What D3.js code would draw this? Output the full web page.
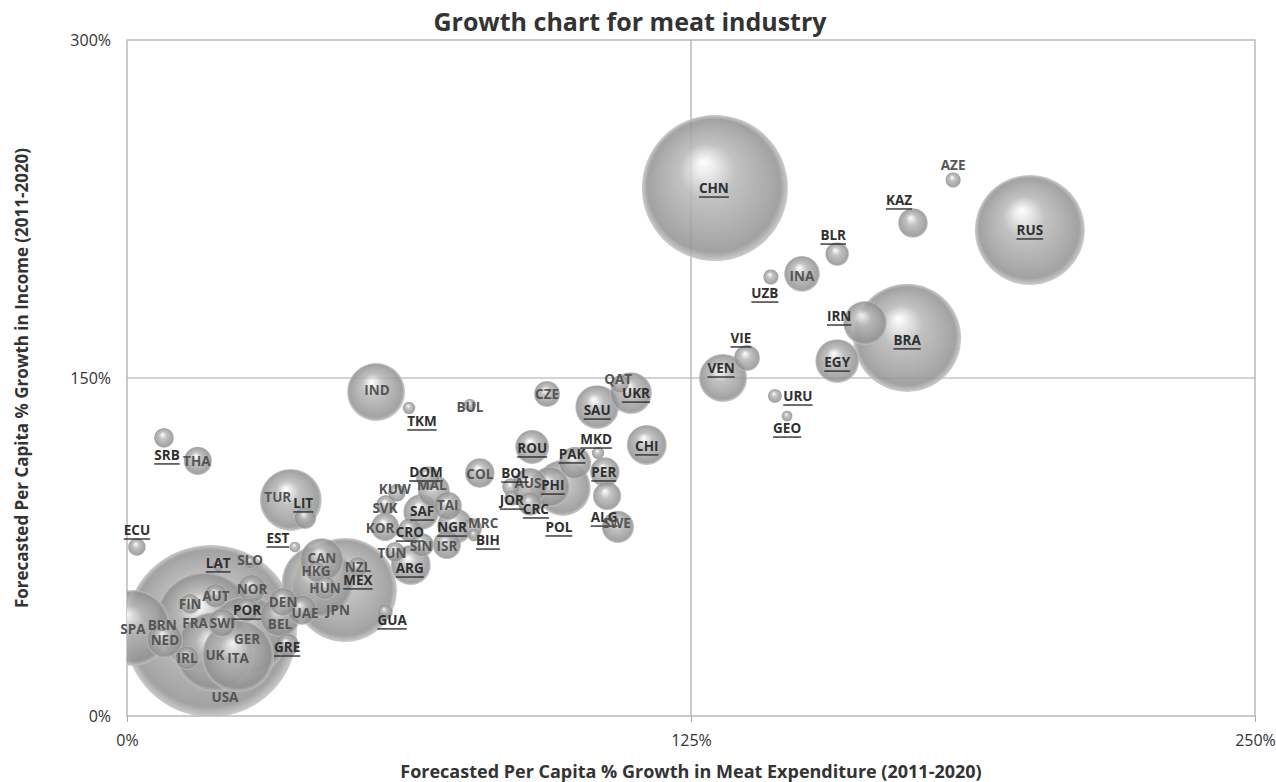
<!DOCTYPE html>
<html><head><meta charset="utf-8">
<script src="https://cdn.jsdelivr.net/npm/d3@7"></script>
<style>body{margin:0;background:#fff}</style>
</head><body>
<svg id="chart" width="1276" height="782"></svg>
<script>
const countries = ["USA","SPA","FRA","GER","UK","ITA","BRN","NED","FIN","AUT","NOR","SLO","LAT","POR","DEN","SWI","BEL","GRE","IRL","JPN","MEX","CAN","HKG","HUN","NZL","UAE","GUA","ECU","EST","TUR","LIT","SRB","THA","IND","TKM","BUL","CZE","SAU","UKR","QAT","CHI","MKD","PAK","ROU","PER","ALG","SWE","POL","PHI","AUS","BOL","JOR","CRC","COL","DOM","MAL","KUW","SVK","SAF","TAI","NGR","MRC","BIH","KOR","CRO","SIN","ISR","TUN","ARG","CHN","AZE","KAZ","RUS","BLR","INA","UZB","IRN","BRA","EGY","VIE","VEN","URU","GEO"];
// Forecasted per capita % growth in meat expenditure (2011-2020)
const meatGrowth = [18.6,1.3,17.3,26.6,19.5,24.6,7.8,8.4,14.0,19.7,27.7,27.3,20.2,26.6,34.6,21.1,33.9,35.5,13.3,48.3,42.3,43.2,41.9,43.9,51.2,38.8,57.2,2.2,37.2,36.3,39.5,8.2,15.7,55.2,62.5,76.0,93.1,104.2,111.7,109.3,115.2,104.4,99.3,89.8,105.9,106.4,108.8,96.6,93.7,89.3,85.1,85.3,89.3,78.2,66.7,68.0,59.8,57.4,65.2,71.1,72.7,76.5,76.9,57.2,62.7,65.4,70.9,59.4,62.9,130.3,183.1,174.2,200.1,157.4,149.6,142.7,163.6,172.9,157.4,137.4,132.1,143.6,146.3];
// Forecasted per capita % growth in income (2011-2020)
const incomeGrowth = [37.7,39.1,41.7,35.5,28.4,26.6,40.4,33.7,49.7,53.3,56.4,68.3,66.6,47.0,50.6,41.3,43.9,31.5,25.7,55.9,59.5,69.2,63.9,56.8,66.1,47.0,46.2,75.0,75.0,95.9,87.9,123.4,113.2,143.8,136.7,138.0,142.9,137.1,143.3,147.3,120.3,116.7,112.3,119.4,108.3,97.6,83.9,101.2,101.6,102.1,101.6,96.7,94.1,107.8,105.6,99.9,99.0,93.6,90.5,93.2,84.3,83.4,80.3,83.9,82.5,75.9,75.9,72.8,67.0,234.3,237.9,218.8,215.7,205.0,196.2,194.8,174.4,167.8,157.5,158.9,150.0,142.0,133.1];
// Bubble size: meat market size (relative units)
const marketSize = [740,144,250,160,160,130,4,32,10,14,20,4,3,14,20,20,40,14,14,270,130,48,10,14,10,22,6,8,3,96,12,10,20,84,4,4,17,48,44,8,40,4,26,29,22,20,26,78,40,32,8,6,14,22,14,26,8,10,32,20,32,10,4,20,14,14,20,10,40,533,6,22,302,14,32,6,48,292,48,17,58,5,3];
const underlinedLabels = ["ECU","EST","LAT","POR","GRE","GUA","MEX","SRB","LIT","DOM","SAF","CRO","NGR","BIH","ARG","JOR","CRC","POL","BOL","PHI","ROU","PAK","MKD","PER","ALG","CHI","SAU","UKR","TKM","VEN","VIE","URU","GEO","UZB","BLR","KAZ","CHN","RUS","IRN","BRA","EGY"];
const xTicks = [0,125,250];
const yTicks = [0,150,300];

// label placement (layout only, pixel offsets from bubble centre)
const labelOffsets = [[14,66],[0,1],[-10,1],[0,3],[0,3],[0,2],[0,0],[0,0],[0,0],[0,0],[0,0],[0,-2],[0,-3],[0,0],[0,0],[0,0],[0,7],[0,2],[0,0],[-7,20],[40,-2],[0,-2],[0,-1],[0,0],[0,0],[3,3],[7,8],[0,-17],[-17,-9],[-13,-3],[-2,-15],[3,17],[-1,0],[1,-2],[13,13],[0,2],[0,0],[0,3],[5,0],[-2,-5],[0,1],[-2,-14],[-3,-9],[0,1],[-1,0],[-3,21],[-1,-4],[-4,39],[3,-2],[-2,-3],[4,-14],[0,2],[6,5],[0,1],[-2,-6],[-2,-6],[-2,-4],[-1,3],[1,-1],[0,-1],[-3,1],[11,-5],[14,5],[-5,1],[0,2],[-1,1],[0,1],[-3,1],[-1,3],[-1,0],[0,-15],[-14,-23],[0,0],[-4,-19],[0,2],[-6,16],[-26,-7],[0,2],[0,1],[-6,-20],[-2,-10],[23,0],[0,12]];

const data = countries.map((c,i)=>({name:c,x:meatGrowth[i],y:incomeGrowth[i],s:marketSize[i],off:labelOffsets[i],u:underlinedLabels.includes(c)}));

const W=1276,H=782;
const m={left:127,right:21,top:40,bottom:66};
const svg=d3.select("#chart");
const x=d3.scaleLinear().domain([0,250]).range([m.left,W-m.right]);
const y=d3.scaleLinear().domain([0,300]).range([H-m.bottom,m.top]);
const r=d3.scaleSqrt().domain([0,d3.max(marketSize)]).range([0,86]);
const font="'Open Sans', 'DejaVu Sans', sans-serif";

const defs=svg.append("defs");
const g=defs.append("radialGradient").attr("id","sphere").attr("cx","50%").attr("cy","50%").attr("r","50%").attr("fx","42%").attr("fy","32%");
[[0,"#ffffff"],[0.12,"#eaeaea"],[0.38,"#b6b6b6"],[0.74,"#9d9d9d"],[0.91,"#909090"],[1,"#c2c2c2"]].forEach(s=>g.append("stop").attr("offset",s[0]).attr("stop-color",s[1]));
defs.append("clipPath").attr("id","plotclip").append("rect").attr("x",m.left).attr("y",m.top).attr("width",W-m.left-m.right).attr("height",H-m.top-m.bottom);

// frame and cross lines
const lineCol="#a8a8a8";
svg.append("rect").attr("x",m.left).attr("y",m.top).attr("width",W-m.left-m.right).attr("height",H-m.top-m.bottom).attr("fill","none").attr("stroke",lineCol).attr("stroke-width",1.2);
svg.append("line").attr("x1",x(125)).attr("x2",x(125)).attr("y1",y(0)).attr("y2",y(300)).attr("stroke",lineCol).attr("stroke-width",1.2);
svg.append("line").attr("x1",x(0)).attr("x2",x(250)).attr("y1",y(150)).attr("y2",y(150)).attr("stroke",lineCol).attr("stroke-width",1.2);

// axes
const xa=svg.append("g").attr("transform",`translate(0,${y(0)})`).call(d3.axisBottom(x).tickValues(xTicks).tickFormat(d=>d+"%").tickSize(6).tickPadding(13));
xa.select(".domain").remove();
xa.selectAll("line").attr("stroke",lineCol);
xa.selectAll("text").attr("font-family",font).attr("font-size",16).attr("fill","#333");
const ya=svg.append("g").attr("transform",`translate(${x(0)},0)`).call(d3.axisLeft(y).tickValues(yTicks).tickFormat(d=>d+"%").tickSize(0).tickPadding(16));
ya.select(".domain").remove();
ya.selectAll("text").attr("font-family",font).attr("font-size",16).attr("fill","#333");

// bubbles
const sorted=data.slice().sort((a,b)=>b.s-a.s);
svg.append("g").attr("clip-path","url(#plotclip)").selectAll("circle").data(sorted).join("circle")
  .attr("cx",d=>x(d.x)).attr("cy",d=>y(d.y)).attr("r",d=>r(d.s))
  .attr("fill","url(#sphere)").attr("fill-opacity",0.84);

// labels
const lg=svg.append("g");
data.forEach(d=>{
  const col=d.u?"#303030":"#555";
  const t=lg.append("text").attr("x",x(d.x)+d.off[0]).attr("y",y(d.y)+d.off[1]).attr("text-anchor","middle").attr("dominant-baseline","central")
    .attr("font-family",font).attr("font-weight","bold").attr("font-size",13.5).attr("fill",col).text(d.name);
  if(d.u){
    const w=t.node().getComputedTextLength();
    lg.append("line").attr("x1",x(d.x)+d.off[0]-w/2).attr("x2",x(d.x)+d.off[0]+w/2)
      .attr("y1",y(d.y)+d.off[1]+9).attr("y2",y(d.y)+d.off[1]+9).attr("stroke",col).attr("stroke-width",1.4);
  }
});

// titles
svg.append("text").attr("x",630).attr("y",31).attr("text-anchor","middle").attr("font-family",font).attr("font-weight","bold").attr("font-size",25).attr("fill","#333").text("Growth chart for meat industry");
svg.append("text").attr("x",x(125)).attr("y",778).attr("text-anchor","middle").attr("font-family",font).attr("font-weight","bold").attr("font-size",18).attr("fill","#333").text("Forecasted Per Capita % Growth in Meat Expenditure (2011-2020)");
svg.append("text").attr("transform",`translate(28,${y(150)}) rotate(-90)`).attr("text-anchor","middle").attr("font-family",font).attr("font-weight","bold").attr("font-size",17).attr("fill","#333").text("Forecasted Per Capita % Growth in Income (2011-2020)");
</script>
</body></html>
